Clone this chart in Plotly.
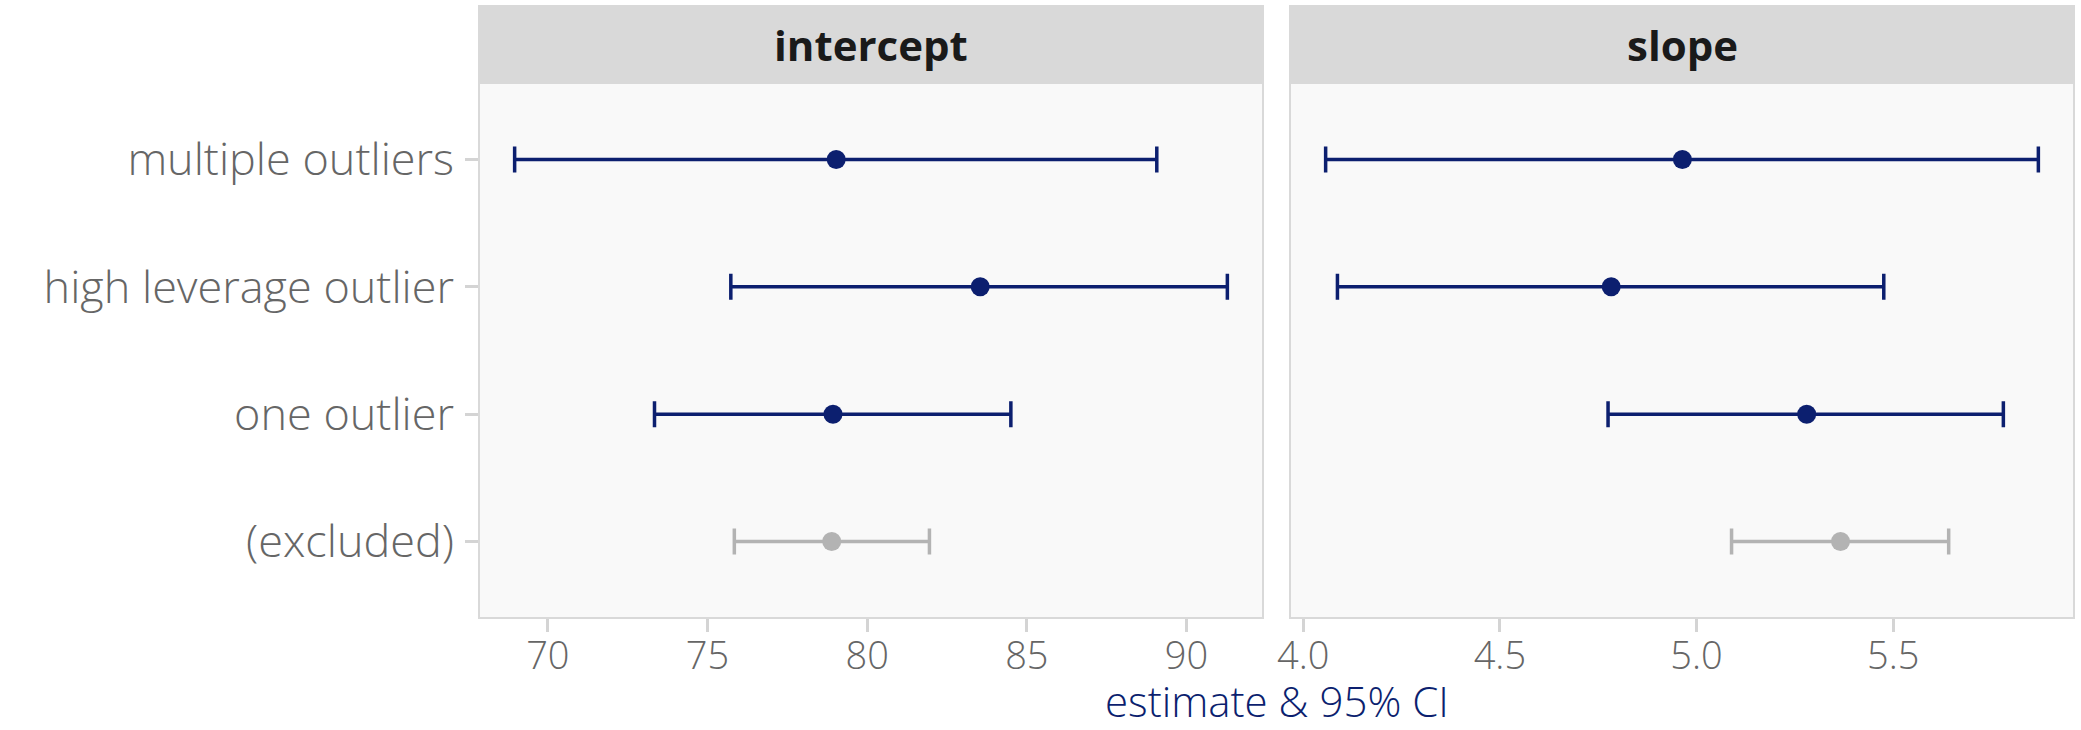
import plotly.graph_objects as go

# Model comparison: estimate and 95% CI for each parameter
categories = ["(excluded)", "one outlier", "high leverage outlier", "multiple outliers"]

intercept_est = [78.89, 78.93, 83.54, 79.03]
intercept_lo = [75.84, 73.34, 75.73, 68.96]
intercept_hi = [81.95, 84.50, 91.28, 89.07]

slope_est = [5.366, 5.280, 4.783, 4.964]
slope_lo = [5.089, 4.775, 4.087, 4.057]
slope_hi = [5.641, 5.780, 5.476, 5.869]

intercept_ticks = [70, 75, 80, 85, 90]
slope_ticks = [4.0, 4.5, 5.0, 5.5]

panel_titles = ["intercept", "slope"]
axis_title = "estimate & 95% CI"

NAVY = "#0c1f6f"
GREY = "#b3b3b3"
FONT = "Open Sans"

W, H = 2081, 730
# panel placement (pixels)
px_left = [(479, 1263), (1290, 2074)]
py_top, py_bot, strip_top = 83, 618, 6

fig = go.Figure()


def add_panel(est, lo, hi, xa, ya):
    for i, cat in enumerate(categories):
        col = GREY if cat == "(excluded)" else NAVY
        fig.add_trace(go.Scatter(
            x=[est[i]], y=[cat], xaxis=xa, yaxis=ya, mode="markers",
            marker=dict(size=19, color=col),
            error_x=dict(type="data", symmetric=False,
                         array=[hi[i] - est[i]], arrayminus=[est[i] - lo[i]],
                         color=col, thickness=3.5, width=13),
            showlegend=False, hoverinfo="skip",
        ))


add_panel(intercept_est, intercept_lo, intercept_hi, "x", "y")
add_panel(slope_est, slope_lo, slope_hi, "x2", "y2")


def padded(lo, hi):
    a, b = min(lo), max(hi)
    s = b - a
    return [a - 0.05 * s, b + 0.05 * s]


xtick_font = dict(family=FONT, size=38, color="#666666", weight=300)
ytick_font = dict(family=FONT, size=45, color="#666666", weight=300)
ydom = [1 - py_bot / H, 1 - py_top / H]
common_x = dict(showgrid=False, zeroline=False, showline=False, ticks="outside",
                ticklen=13, tickwidth=3, tickcolor="#d4d4d4", tickfont=xtick_font,
                ticklabelstandoff=-9, automargin=False)

fig.update_layout(
    width=W, height=H, margin=dict(l=0, r=0, t=0, b=0, autoexpand=False),
    paper_bgcolor="white", plot_bgcolor="#f9f9f9",
    xaxis=dict(domain=[px_left[0][0] / W, px_left[0][1] / W],
               range=padded(intercept_lo, intercept_hi),
               tickvals=intercept_ticks, **common_x),
    xaxis2=dict(domain=[px_left[1][0] / W, px_left[1][1] / W],
                range=padded(slope_lo, slope_hi),
                tickvals=slope_ticks, tickformat=".1f", **common_x),
    yaxis=dict(domain=ydom, type="category", categoryorder="array",
               categoryarray=categories, range=[-0.6, 3.6],
               showgrid=False, zeroline=False, showline=False,
               ticks="outside", ticklen=13, tickwidth=3, tickcolor="#d4d4d4",
               tickfont=ytick_font, ticklabelstandoff=2, automargin=False),
    yaxis2=dict(domain=ydom, type="category", categoryorder="array",
                categoryarray=categories, range=[-0.6, 3.6], anchor="x2",
                showgrid=False, zeroline=False, showline=False,
                showticklabels=False, ticks="", automargin=False),
)

shapes = []
annotations = []
for k, (xr, title) in enumerate(zip(["x domain", "x2 domain"], panel_titles)):
    yr = "y domain" if k == 0 else "y2 domain"
    shapes.append(dict(type="rect", xref=xr, yref=yr, x0=0, x1=1, y0=0, y1=1,
                       line=dict(color="#d9d9d9", width=2), fillcolor="rgba(0,0,0,0)",
                       layer="above"))
    shapes.append(dict(type="rect", xref=xr, yref="paper", x0=0, x1=1,
                       y0=1 - py_top / H, y1=1 - strip_top / H,
                       line=dict(color="#d9d9d9", width=2), fillcolor="#d9d9d9",
                       layer="above"))
    annotations.append(dict(text=f"<b>{title}</b>", xref=xr, yref="paper",
                            x=0.5, y=1 - (py_top + strip_top) / 2 / H,
                            showarrow=False, xanchor="center", yanchor="middle",
                            font=dict(family=FONT, size=42, color="#1a1a1a")))

annotations.append(dict(text=axis_title, xref="paper", yref="paper",
                        x=(px_left[0][0] + px_left[1][1]) / 2 / W, y=1 - 700 / H,
                        showarrow=False, xanchor="center", yanchor="middle",
                        font=dict(family=FONT, size=42, color=NAVY, weight=300)))

fig.update_layout(shapes=shapes, annotations=annotations)
fig.write_html("out.html")
